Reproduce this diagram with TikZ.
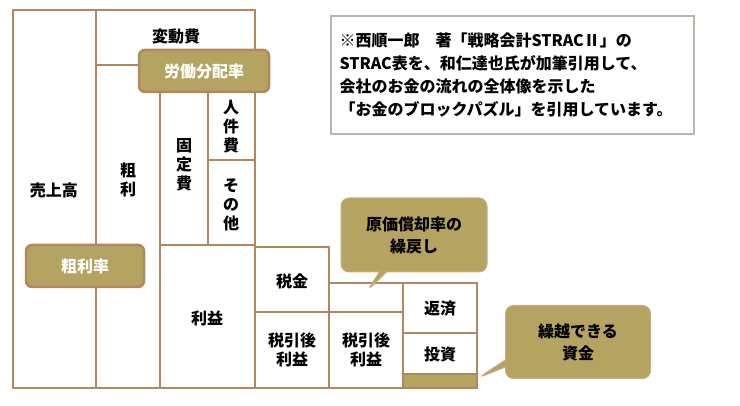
\documentclass[tikz,border=0pt]{standalone}
\usepackage{fontspec}
\setmainfont{Noto Sans CJK JP}
\usetikzlibrary{shapes.callouts}
\definecolor{frame}{HTML}{B08A5E}
\definecolor{tan}{HTML}{B5A362}
\tikzset{
  cell/.style={draw=frame,line width=2.6pt},
  lbl/.style={font=\bfseries\fontsize{16}{19}\selectfont,align=center,inner sep=0pt},
  tag/.style={draw=frame,line width=2.5pt,fill=tan,rounded corners=6pt,text=white,
    font=\bfseries\fontsize{16}{19}\selectfont},
  bubble/.style={rectangle callout,draw=frame!70,line width=1pt,fill=tan,rounded corners=8pt,
    font=\bfseries\fontsize{16}{22}\selectfont,align=center}
}
\begin{document}
\begin{tikzpicture}[x=1pt,y=-1pt]
\useasboundingbox (0,0) rectangle (740,406);
% grid of cells
\draw[cell] (13,10) rectangle (96,388);
\draw[cell] (96,10) rectangle (255,65);
\draw[cell] (96,65) rectangle (160,388);
\draw[cell] (160,65) rectangle (208,245);
\draw[cell] (208,65) rectangle (255,160);
\draw[cell] (208,160) rectangle (255,245);
\draw[cell] (160,245) rectangle (255,388);
\draw[cell] (255,247) rectangle (329,312);
\draw[cell] (329,283) rectangle (403,312);
\draw[cell] (255,312) rectangle (329,388);
\draw[cell] (329,312) rectangle (403,388);
\draw[cell] (403,283) rectangle (477,333);
\draw[cell] (403,333) rectangle (477,374);
\draw[cell,fill=tan] (403,374) rectangle (477,388);
% texts
\node[lbl] (uriage) at (54,190) {売上高};
\node[lbl] (hendo) at (176,36) {変動費};
\node[lbl] (arari) at (128,180) {粗\\利};
\node[lbl] (kotei) at (184,165) {固\\定\\費};
\node[lbl] (jinken) at (231,127) {人\\件\\費};
\node[lbl] (sonota) at (231,205) {そ\\の\\他};
\node[lbl] (rieki) at (207,318) {利益};
\node[lbl] (zeikin) at (292,281) {税金};
\node[lbl] (zeigo1) at (292,350) {税引後\\利益};
\node[lbl] (zeigo2) at (366,350) {税引後\\利益};
\node[lbl] (hensai) at (440,309) {返済};
\node[lbl] (toshi) at (440,354) {投資};
% tags
\node[tag,minimum width=130,minimum height=42] (rodo) at (204,71) {労働分配率};
\node[tag,minimum width=118,minimum height=42] (arariritsu) at (85,266) {粗利率};
% callouts
\node[bubble,minimum width=146,minimum height=74,callout absolute pointer={(367,291)}]
  (genka) at (414,235) {原価償却率の\\繰戻し};
\node[bubble,minimum width=145,minimum height=73,callout absolute pointer={(478,378)}]
  (kurikoshi) at (578,342) {繰越できる\\資金};
% note
\node[draw=frame!40!gray!60,line width=2pt,fill=white,minimum width=363,minimum height=118,
  text width=345,align=left,font=\bfseries\fontsize{16}{23}\selectfont] (note) at (512,75)
  {※西順一郎　著「戦略会計STRACⅡ」の\\STRAC表を、和仁達也氏が加筆引用して、\\会社のお金の流れの全体像を示した\\「お金のブロックパズル」を引用しています。};
\end{tikzpicture}
\end{document}
